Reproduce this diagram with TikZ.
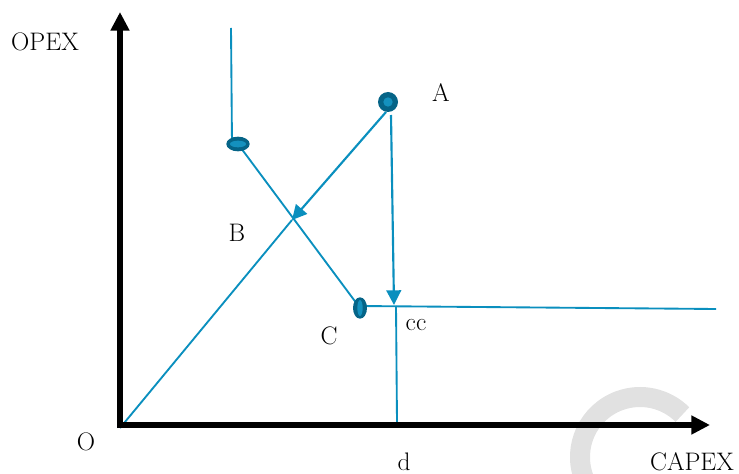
\documentclass[tikz,border=0pt]{standalone}
\usetikzlibrary{arrows.meta,shapes.geometric}
\definecolor{lineblue}{RGB}{10,143,190}
\definecolor{dotdark}{RGB}{5,100,135}
\definecolor{dotlight}{RGB}{20,145,190}
\definecolor{wmgray}{RGB}{225,225,225}
\tikzset{
  axis/.style={line width=4.5pt,-{Triangle[length=14pt,width=13.5pt]}},
  blueline/.style={draw=lineblue,line width=1.4pt},
  bluearrow/.style={draw=lineblue,line width=1.6pt,-{Triangle[length=11pt,width=11pt]}},
  dot/.style={fill=dotdark,draw=none,inner sep=0pt},
  lbl/.style={font=\fontsize{19}{21}\selectfont,inner sep=0pt},
}
\begin{document}
\begin{tikzpicture}[x=0.75pt,y=-0.75pt]
\useasboundingbox (0,0) rectangle (739,474);
% watermark arc
\begin{scope}
\clip (0,0) rectangle (739,474);
\draw[wmgray,line width=15pt] (640,457) ++(-200:60) arc[start angle=-200,end angle=-45,radius=60];
\end{scope}
% coordinates
\coordinate (O) at (120,428);
\coordinate (Ytip) at (120,12);
\coordinate (Xtip) at (710,425);
\coordinate (Xstart) at (117,425);
\coordinate (Ystart) at (120,428);
\coordinate (Top) at (231,28);
\coordinate (X) at (292,220);
\coordinate (Atop) at (391,115);
\coordinate (CC) at (394,305);
\coordinate (CCbot) at (396,306);
\coordinate (D) at (397,422);
\coordinate (Right) at (716,309);
% blue lines
\draw[blueline] (Top) -- (232,144);
\draw[blueline] (238,144) -- (360,308);
\draw[blueline] (360,306) -- (Right);
\draw[blueline] (O) -- (X);
\draw[blueline] (CCbot) -- (D);
\draw[bluearrow] (386,112) -- (X);
\draw[bluearrow] (Atop) -- (CC);
% dots
\node[dot,circle,minimum size=15pt] (A) at (388,102) {};
\fill[dotlight] (A.center) circle (3.5pt);
\node[dot,ellipse,minimum width=17.5pt,minimum height=11pt] (B) at (238,144) {};
\fill[dotlight] (B.center) ellipse (6pt and 2.5pt);
\node[dot,ellipse,minimum width=10.5pt,minimum height=16pt] (C) at (360,308) {};
\fill[dotlight] (C.center) ellipse (2pt and 6pt);
% axes
\draw[axis] (Ystart) -- (Ytip);
\draw[axis] (Xstart) -- (Xtip);
% labels
\node[lbl] (lOPEX) at (45,42) {OPEX};
\node[lbl] (lA) at (441,93) {A};
\node[lbl] (lB) at (237,233) {B};
\node[lbl] (lC) at (329,336) {C};
\node[lbl] (lcc) at (416,325) {cc};
\node[lbl] (lO) at (86,442) {O};
\node[lbl] (ld) at (404,462) {d};
\node[lbl] (lCAPEX) at (692,462) {CAPEX};
\end{tikzpicture}
\end{document}
